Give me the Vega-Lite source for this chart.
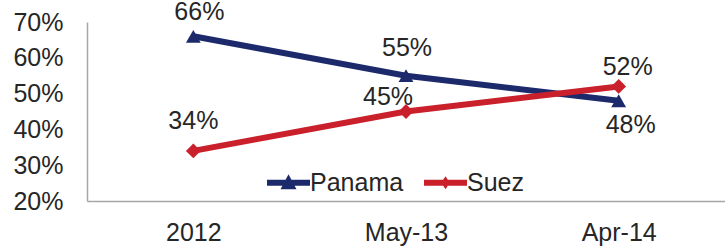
{
  "$schema": "https://vega.github.io/schema/vega-lite/v6.json",
  "width": 638,
  "height": 179,
  "autosize": {"type": "none"},
  "padding": {"left": 87, "top": 22, "right": 0, "bottom": 45},
  "config": {"view": {"stroke": null}, "font": "Liberation Sans", "text": {"fontSize": 25, "color": "#262626"}},
  "data": {
    "values": [
      {"date": "2012", "series": "Panama", "value": 0.66},
      {"date": "May-13", "series": "Panama", "value": 0.55},
      {"date": "Apr-14", "series": "Panama", "value": 0.48},
      {"date": "2012", "series": "Suez", "value": 0.34},
      {"date": "May-13", "series": "Suez", "value": 0.45},
      {"date": "Apr-14", "series": "Suez", "value": 0.52}
    ]
  },
  "encoding": {
    "x": {
      "field": "date", "type": "ordinal", "sort": ["2012", "May-13", "Apr-14"],
      "scale": {"type": "point", "padding": 0.5},
      "axis": {"title": null, "labelAngle": 0, "ticks": false, "grid": false, "domainColor": "#a6a6a6", "domainWidth": 1.5, "labelFontSize": 25, "labelColor": "#262626", "labelPadding": 19}
    },
    "y": {
      "field": "value", "type": "quantitative",
      "scale": {"domain": [0.2, 0.7], "nice": false, "zero": false},
      "axis": {"title": null, "values": [0.2, 0.3, 0.4, 0.5, 0.6, 0.7], "format": ".0%", "ticks": false, "grid": false, "domainColor": "#a6a6a6", "domainWidth": 1.5, "labelFontSize": 25, "labelColor": "#262626", "labelPadding": 24}
    },
    "color": {
      "field": "series", "type": "nominal",
      "scale": {"domain": ["Panama", "Suez"], "range": ["#1c2a6c", "#c9202c"]},
      "legend": null
    }
  },
  "layer": [
    {"mark": {"type": "line", "strokeWidth": 6}},
    {
      "mark": {"type": "point", "filled": true, "opacity": 1, "size": 220},
      "encoding": {
        "shape": {"field": "series", "type": "nominal", "scale": {"domain": ["Panama", "Suez"], "range": ["triangle-up", "diamond"]}, "legend": null}
      }
    },
    {
      "transform": [{"filter": "datum.date == '2012' && datum.series == 'Panama'"}],
      "mark": {"type": "text", "dy": -24, "dx": 6},
      "encoding": {"text": {"field": "value", "type": "quantitative", "format": ".0%"}, "color": {"value": "#262626"}}
    },
    {
      "transform": [{"filter": "datum.date == 'May-13' && datum.series == 'Panama'"}],
      "mark": {"type": "text", "dy": -28, "dx": 1},
      "encoding": {"text": {"field": "value", "type": "quantitative", "format": ".0%"}, "color": {"value": "#262626"}}
    },
    {
      "transform": [{"filter": "datum.date == 'Apr-14' && datum.series == 'Panama'"}],
      "mark": {"type": "text", "dy": 24, "dx": 12},
      "encoding": {"text": {"field": "value", "type": "quantitative", "format": ".0%"}, "color": {"value": "#262626"}}
    },
    {
      "transform": [{"filter": "datum.date == '2012' && datum.series == 'Suez'"}],
      "mark": {"type": "text", "dy": -30, "dx": 0},
      "encoding": {"text": {"field": "value", "type": "quantitative", "format": ".0%"}, "color": {"value": "#262626"}}
    },
    {
      "transform": [{"filter": "datum.date == 'May-13' && datum.series == 'Suez'"}],
      "mark": {"type": "text", "dy": -15, "dx": -18},
      "encoding": {"text": {"field": "value", "type": "quantitative", "format": ".0%"}, "color": {"value": "#262626"}}
    },
    {
      "transform": [{"filter": "datum.date == 'Apr-14' && datum.series == 'Suez'"}],
      "mark": {"type": "text", "dy": -19, "dx": 9},
      "encoding": {"text": {"field": "value", "type": "quantitative", "format": ".0%"}, "color": {"value": "#262626"}}
    },
    {
      "mark": {"type": "point", "filled": true, "opacity": 0},
      "encoding": {
        "shape": {
          "field": "series", "type": "nominal",
          "scale": {"domain": ["Panama", "Suez"], "range": ["M-1,-0.14L1,-0.14L1,0.14L-1,0.14Z M-0.37,0.3L0,-0.4L0.37,0.3Z", "M-1,-0.14L1,-0.14L1,0.14L-1,0.14Z M-0.2,0L0,-0.3L0.2,0L0,0.3Z"]},
          "legend": {
            "orient": "none", "legendX": 180, "legendY": 139, "direction": "horizontal", "title": null,
            "labelFontSize": 25, "labelColor": "#262626", "symbolSize": 1849, "labelOffset": 0, "columnPadding": 20,
            "symbolStrokeWidth": 0, "symbolOpacity": 1,
            "symbolFillColor": "#c9202c",
            "encode": {"symbols": {"update": {"fill": {"signal": "datum.value == 'Panama' ? '#1c2a6c' : '#c9202c'"}, "opacity": {"value": 1}}}}
          }
        }
      }
    }
  ],
  "resolve": {"scale": {"shape": "independent"}}
}
